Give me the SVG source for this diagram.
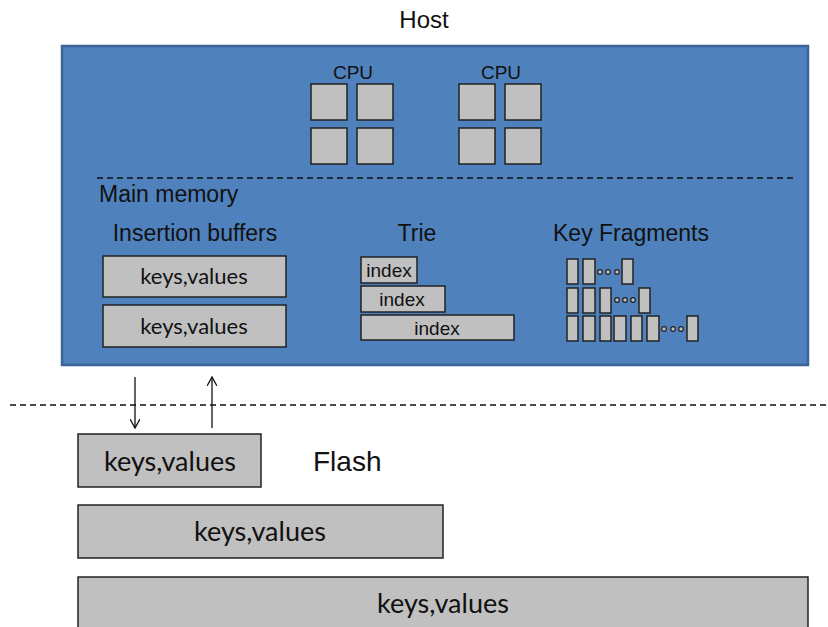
<svg xmlns="http://www.w3.org/2000/svg" width="828" height="627" viewBox="0 0 828 627">
<defs>
<style>
.lbl{font-family:"Liberation Sans",Arial,sans-serif;fill:#111;}
.cal{font-family:Lato,"Open Sans",sans-serif;fill:#111;}
.g{fill:#c0c0c0;stroke:#222;stroke-width:1.5;}
.dot{fill:#c0c0c0;stroke:#222;stroke-width:1.2;}
.dash{stroke:#111;stroke-width:1.3;stroke-dasharray:6,4;fill:none;}
.arr{stroke:#111;stroke-width:1.3;fill:none;}
</style>
<marker id="ah" viewBox="0 0 10 10" refX="9" refY="5" markerWidth="10" markerHeight="10" markerUnits="userSpaceOnUse" orient="auto">
<path d="M0,0 L9,5 L0,10" fill="none" stroke="#111" stroke-width="1.3"/>
</marker>
</defs>
<rect width="828" height="627" fill="#fff"/>
<g id="host">
<text class="lbl" x="424" y="28" font-size="24" text-anchor="middle">Host</text>
<rect x="62" y="46" width="746" height="319" fill="#4f81bd" stroke="#3b6598" stroke-width="2.5"/>
</g>
<g id="cpu1">
<text class="lbl" x="353" y="79" font-size="19" text-anchor="middle">CPU</text>
<rect class="g" x="311" y="84" width="36" height="36"/>
<rect class="g" x="357" y="84" width="36" height="36"/>
<rect class="g" x="311" y="128" width="36" height="36"/>
<rect class="g" x="357" y="128" width="36" height="36"/>
</g>
<g id="cpu2">
<text class="lbl" x="501" y="79" font-size="19" text-anchor="middle">CPU</text>
<rect class="g" x="459" y="84" width="36" height="36"/>
<rect class="g" x="505" y="84" width="36" height="36"/>
<rect class="g" x="459" y="128" width="36" height="36"/>
<rect class="g" x="505" y="128" width="36" height="36"/>
</g>
<g id="main-memory">
<line class="dash" x1="97" y1="178" x2="793" y2="178"/>
<text class="lbl" x="99" y="202" font-size="23">Main memory</text>
</g>
<g id="insertion-buffers">
<text class="lbl" x="195" y="241" font-size="23" text-anchor="middle">Insertion buffers</text>
<rect class="g" x="103" y="256" width="183" height="41"/>
<text class="cal" x="194" y="284" font-size="22" text-anchor="middle">keys,values</text>
<rect class="g" x="103" y="305" width="183" height="42"/>
<text class="cal" x="194" y="334" font-size="22" text-anchor="middle">keys,values</text>
</g>
<g id="trie">
<text class="lbl" x="417" y="241" font-size="23" text-anchor="middle">Trie</text>
<rect class="g" x="361" y="257" width="56" height="26"/>
<text class="lbl" x="389" y="277" font-size="19" text-anchor="middle">index</text>
<rect class="g" x="361" y="286" width="84" height="26"/>
<text class="lbl" x="402" y="306" font-size="19" text-anchor="middle">index</text>
<rect class="g" x="361" y="315" width="153" height="25"/>
<text class="lbl" x="437" y="335" font-size="19" text-anchor="middle">index</text>
</g>
<g id="key-fragments">
<text class="lbl" x="631" y="241" font-size="23" text-anchor="middle">Key Fragments</text>
<rect class="g" x="567" y="259" width="11" height="25"/>
<rect class="g" x="583" y="259" width="12" height="25"/>
<circle class="dot" cx="600" cy="272" r="2.3"/>
<circle class="dot" cx="608" cy="272" r="2.3"/>
<circle class="dot" cx="617" cy="272" r="2.3"/>
<rect class="g" x="622" y="259" width="11" height="25"/>
<rect class="g" x="567" y="288" width="11" height="25"/>
<rect class="g" x="583" y="288" width="12" height="25"/>
<rect class="g" x="600" y="288" width="11" height="25"/>
<circle class="dot" cx="617" cy="300" r="2.3"/>
<circle class="dot" cx="625" cy="300" r="2.3"/>
<circle class="dot" cx="633" cy="300" r="2.3"/>
<rect class="g" x="639" y="288" width="11" height="25"/>
<rect class="g" x="567" y="316" width="11" height="25"/>
<rect class="g" x="583" y="316" width="12" height="25"/>
<rect class="g" x="600" y="316" width="11" height="25"/>
<rect class="g" x="614" y="316" width="12" height="25"/>
<rect class="g" x="631" y="316" width="11" height="25"/>
<rect class="g" x="647" y="316" width="12" height="25"/>
<circle class="dot" cx="664" cy="329" r="2.3"/>
<circle class="dot" cx="673" cy="329" r="2.3"/>
<circle class="dot" cx="681" cy="329" r="2.3"/>
<rect class="g" x="687" y="316" width="11" height="25"/>
</g>
<g id="boundary">
<line class="dash" x1="10" y1="405" x2="828" y2="405"/>
</g>
<g id="connectors">
<line class="arr" x1="135" y1="377" x2="135" y2="428" marker-end="url(#ah)"/>
<line class="arr" x1="212" y1="428" x2="212" y2="377" marker-end="url(#ah)"/>
</g>
<g id="flash">
<text class="lbl" x="313" y="471" font-size="28">Flash</text>
<rect class="g" x="78" y="434" width="183" height="53"/>
<text class="cal" x="170" y="471" font-size="27" text-anchor="middle">keys,values</text>
<rect class="g" x="78" y="505" width="365" height="53"/>
<text class="cal" x="260" y="541" font-size="27" text-anchor="middle">keys,values</text>
<rect class="g" x="78" y="577" width="730" height="60"/>
<text class="cal" x="443" y="613" font-size="27" text-anchor="middle">keys,values</text>
</g>
</svg>
